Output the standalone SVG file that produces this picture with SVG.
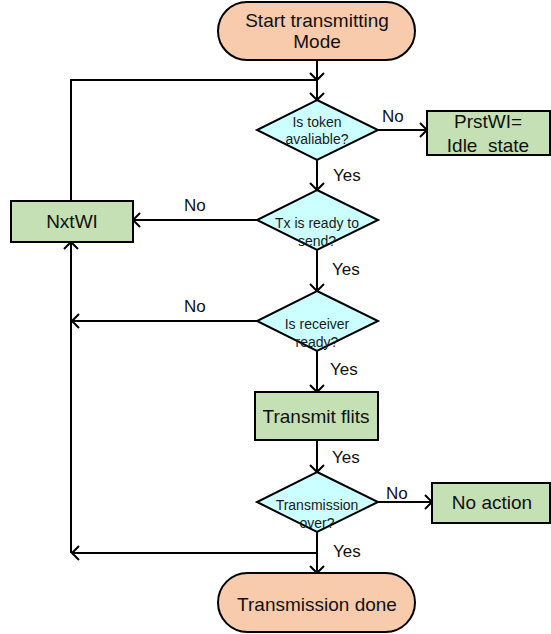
<svg xmlns="http://www.w3.org/2000/svg" width="551" height="634" viewBox="0 0 551 634">
  <style>
    .term { fill: #F8CBAD; stroke: #000; stroke-width: 2; }
    .proc { fill: #C5E0B4; stroke: #000; stroke-width: 2; }
    .dec { fill: #CCFFFF; stroke: #000; stroke-width: 2; }
    .big { font-family: "Liberation Sans", Arial, sans-serif; font-size: 19px; fill: #111; text-anchor: middle; }
    .small { font-family: "Liberation Sans", Arial, sans-serif; font-size: 14px; fill: #1a1a1a; text-anchor: middle; }
    .lbl { font-family: "Liberation Sans", Arial, sans-serif; font-size: 17px; fill: #111; }
    .wire { fill: none; stroke: #000; stroke-width: 2; }
  </style>
  <defs>
    <marker id="arrow" viewBox="-10 -10 20 20" markerWidth="20" markerHeight="20" refX="0" refY="0" orient="auto" markerUnits="userSpaceOnUse">
      <path d="M-7,-7 L0,0 L-7,7" fill="none" stroke="#000" stroke-width="2"/>
    </marker>
  </defs>

  <!-- connectors -->
  <g id="connectors">
    <path class="wire" d="M71,201 V80 H317"/>
    <path class="wire" d="M317,60 V80" marker-end="url(#arrow)"/>
    <path class="wire" d="M317,80 V100" marker-end="url(#arrow)"/>
    <path class="wire" d="M378,130 H427" marker-end="url(#arrow)"/>
    <path class="wire" d="M317,160 V190" marker-end="url(#arrow)"/>
    <path class="wire" d="M257,220 H133" marker-end="url(#arrow)"/>
    <path class="wire" d="M317,250 V291" marker-end="url(#arrow)"/>
    <path class="wire" d="M257,321 H72" marker-end="url(#arrow)"/>
    <path class="wire" d="M317,351 V392" marker-end="url(#arrow)"/>
    <path class="wire" d="M317,440 V472" marker-end="url(#arrow)"/>
    <path class="wire" d="M378,502 H432" marker-end="url(#arrow)"/>
    <path class="wire" d="M317,532 V573" marker-end="url(#arrow)"/>
    <path class="wire" d="M317,553 H72" marker-end="url(#arrow)"/>
    <path class="wire" d="M71,553 V242" marker-end="url(#arrow)"/>

    <text class="lbl" x="382" y="122">No</text>
    <text class="lbl" x="333" y="181">Yes</text>
    <text class="lbl" x="184" y="211">No</text>
    <text class="lbl" x="332" y="275">Yes</text>
    <text class="lbl" x="184" y="312">No</text>
    <text class="lbl" x="330" y="375">Yes</text>
    <text class="lbl" x="332" y="463">Yes</text>
    <text class="lbl" x="386" y="499">No</text>
    <text class="lbl" x="333" y="557">Yes</text>
  </g>

  <g id="start">
    <rect class="term" x="218" y="2" width="197" height="58" rx="29"/>
    <text class="big" x="317" y="27">Start transmitting</text>
    <text class="big" x="317" y="48">Mode</text>
  </g>

  <g id="token-check">
    <polygon class="dec" points="317,100 378,130 317,160 257,130"/>
    <text class="small" x="317" y="127">Is token</text>
    <text class="small" x="317" y="144">avaliable?</text>
  </g>

  <g id="idle">
    <rect class="proc" x="427" y="111" width="123" height="44"/>
    <text class="big" x="488" y="128">PrstWI=</text>
    <text class="big" x="488" y="152" xml:space="preserve">Idle  state</text>
  </g>

  <g id="tx-ready">
    <polygon class="dec" points="317,190 378,220 317,250 257,220"/>
    <text class="small" x="317" y="228">Tx is ready to</text>
    <text class="small" x="317" y="246">send?</text>
  </g>

  <g id="next">
    <rect class="proc" x="11" y="201" width="122" height="41"/>
    <text class="big" x="72" y="228">NxtWI</text>
  </g>

  <g id="rx-ready">
    <polygon class="dec" points="317,291 378,321 317,351 257,321"/>
    <text class="small" x="317" y="329">Is receiver</text>
    <text class="small" x="317" y="347">ready?</text>
  </g>

  <g id="transmit">
    <rect class="proc" x="255" y="392" width="123" height="48"/>
    <text class="big" x="316" y="423">Transmit flits</text>
  </g>

  <g id="tx-over">
    <polygon class="dec" points="317,472 378,502 317,532 257,502"/>
    <text class="small" x="317" y="510">Transmission</text>
    <text class="small" x="317" y="528">over?</text>
  </g>

  <g id="no-action">
    <rect class="proc" x="432" y="483" width="118" height="40"/>
    <text class="big" x="492" y="509">No action</text>
  </g>

  <g id="done">
    <rect class="term" x="218" y="573" width="197" height="59" rx="29.5"/>
    <text class="big" x="317" y="611">Transmission done</text>
  </g>
</svg>
